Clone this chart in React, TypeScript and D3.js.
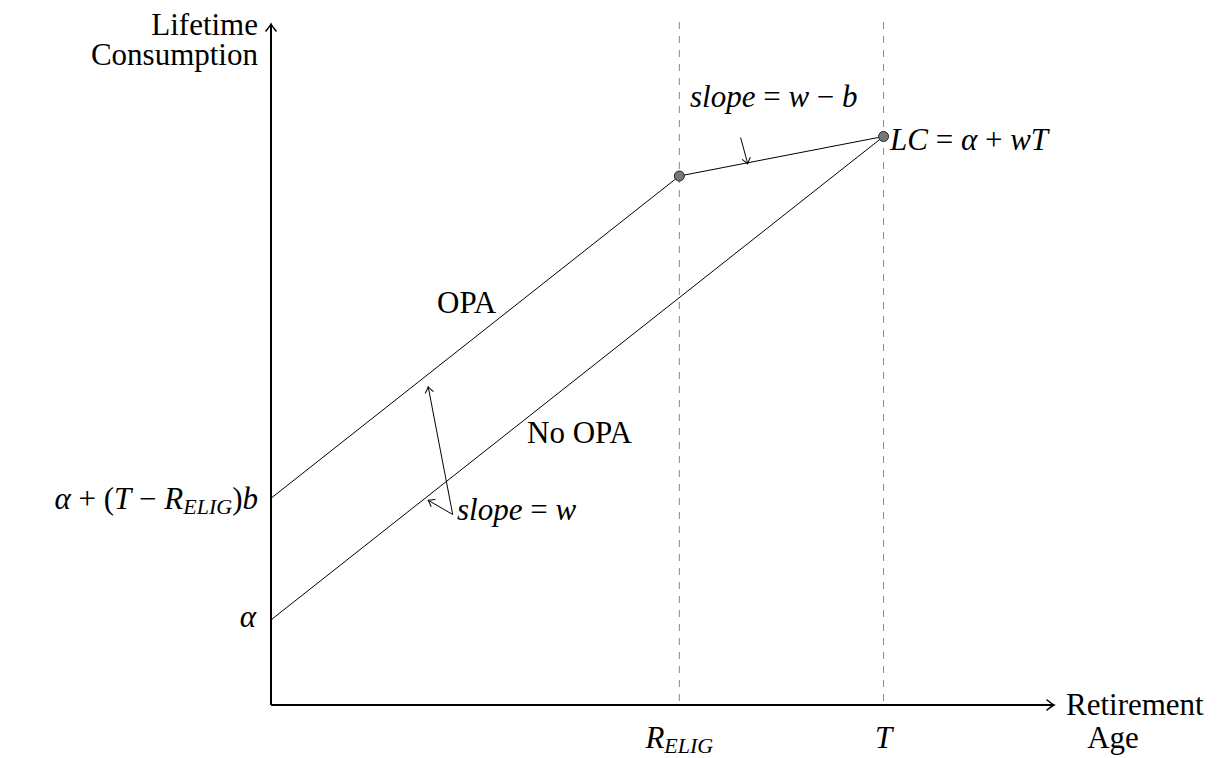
import React from "react";
import * as d3 from "d3";

// ---- data (model units) ----
const xMarks = [
  { key: "R", base: "R", sub: "ELIG", value: 4 },
  { key: "T", base: "T", sub: "", value: 6 },
];
const noOpaLine = [
  { x: 0, y: 0.84 },
  { x: 6, y: 5.61 },
];
const opaLine = [
  { x: 0, y: 2.04 },
  { x: 4, y: 5.22 },
  { x: 6, y: 5.61 },
];
const dotPoints = [
  { x: 4, y: 5.22 },
  { x: 6, y: 5.61 },
];
const yLabelValues = { alpha: 0.84, opaIntercept: 2.04 };

const W = 1229;
const H = 758;
const FONT = "'Liberation Serif', 'Times New Roman', serif";
const FS = 31;
const SUB = 22;
const tStyle = { fontFamily: FONT };

export default function App() {
  const x = d3.scaleLinear().domain([0, 7.67]).range([271, 1054]);
  const y = d3.scaleLinear().domain([0, 6.72]).range([705, 24]);
  const line = d3
    .line<{ x: number; y: number }>()
    .x((d) => x(d.x))
    .y((d) => y(d.y));

  const x0 = x(0);
  const y0 = y(0);

  const slopeWStart = { x: 1.78, y: 1.88 };
  const slopeWTips = [
    { x: 1.54, y: 3.14 },
    { x: 1.54, y: 2.02 },
  ];
  const segArrow = { from: { x: 4.6, y: 5.6 }, to: { x: 4.67, y: 5.34 } };

  return (
    <svg
      width={W}
      height={H}
      style={{ position: "absolute", left: 0, top: 0, background: "#fff" }}
    >
      <defs>
        <marker
          id="axArrow"
          viewBox="-10 -6 12 12"
          markerWidth={12}
          markerHeight={12}
          refX={0}
          refY={0}
          orient="auto"
          markerUnits="userSpaceOnUse"
        >
          <path
            d="M -7,-5 Q -2,-1 0,0 Q -2,1 -7,5"
            fill="none"
            stroke="#000"
            strokeWidth={1.6}
            strokeLinecap="round"
          />
        </marker>
        <marker
          id="thinArrow"
          viewBox="-8 -5 10 10"
          markerWidth={10}
          markerHeight={10}
          refX={0}
          refY={0}
          orient="auto"
          markerUnits="userSpaceOnUse"
        >
          <path
            d="M -5.5,-4 Q -1.5,-0.8 0,0 Q -1.5,0.8 -5.5,4"
            fill="none"
            stroke="#000"
            strokeWidth={1}
            strokeLinecap="round"
          />
        </marker>
      </defs>

      {xMarks.map((m) => (
        <line
          key={m.key}
          x1={x(m.value)}
          x2={x(m.value)}
          y1={22}
          y2={y0}
          stroke="#8a8a8a"
          strokeWidth={1}
          strokeDasharray="7 7"
        />
      ))}

      <line x1={x0} y1={y0} x2={x(7.67)} y2={y0} stroke="#000" strokeWidth={2} markerEnd="url(#axArrow)" />
      <line x1={x0} y1={y0} x2={x0} y2={y(6.72)} stroke="#000" strokeWidth={2} markerEnd="url(#axArrow)" />

      <path d={line(noOpaLine) || ""} fill="none" stroke="#000" strokeWidth={1} />
      <path d={line(opaLine) || ""} fill="none" stroke="#000" strokeWidth={1} />

      {dotPoints.map((p, i) => (
        <circle key={i} cx={x(p.x)} cy={y(p.y)} r={5} fill="#777" stroke="#222" strokeWidth={1} />
      ))}

      {slopeWTips.map((t, i) => (
        <line
          key={i}
          x1={x(slopeWStart.x)}
          y1={y(slopeWStart.y)}
          x2={x(t.x)}
          y2={y(t.y)}
          stroke="#000"
          strokeWidth={1}
          markerEnd="url(#thinArrow)"
        />
      ))}
      <line
        x1={x(segArrow.from.x)}
        y1={y(segArrow.from.y)}
        x2={x(segArrow.to.x)}
        y2={y(segArrow.to.y)}
        stroke="#000"
        strokeWidth={1}
        markerEnd="url(#thinArrow)"
      />

      <g fontSize={FS} fill="#000">
        <text style={tStyle} x={258} y={35} textAnchor="end">Lifetime</text>
        <text style={tStyle} x={258} y={65} textAnchor="end">Consumption</text>

        <text style={tStyle} x={1066} y={715}>Retirement</text>
        <text style={tStyle} x={1113} y={748} textAnchor="middle">Age</text>

        <text style={tStyle} x={258} y={y(yLabelValues.opaIntercept) + 11} textAnchor="end">
          <tspan fontStyle="italic">α</tspan>
          <tspan> + (</tspan>
          <tspan fontStyle="italic">T</tspan>
          <tspan> − </tspan>
          <tspan fontStyle="italic">R</tspan>
          <tspan fontStyle="italic" fontSize={SUB} dy={5}>ELIG</tspan>
          <tspan dy={-5}>)</tspan>
          <tspan fontStyle="italic">b</tspan>
        </text>
        <text style={tStyle} x={256} y={y(yLabelValues.alpha) + 7} textAnchor="end" fontStyle="italic">α</text>

        {xMarks.map((m) => (
          <text style={tStyle} key={m.key} x={x(m.value)} y={748} textAnchor="middle" fontStyle="italic">
            <tspan>{m.base}</tspan>
            {m.sub ? (
              <tspan fontSize={SUB} dy={5}>{m.sub}</tspan>
            ) : null}
          </text>
        ))}

        <text style={tStyle} x={437} y={313}>OPA</text>
        <text style={tStyle} x={527} y={443}>No OPA</text>

        <text style={tStyle} x={457} y={520}>
          <tspan fontStyle="italic">slope</tspan>
          <tspan> = </tspan>
          <tspan fontStyle="italic">w</tspan>
        </text>
        <text style={tStyle} x={690} y={107}>
          <tspan fontStyle="italic">slope</tspan>
          <tspan> = </tspan>
          <tspan fontStyle="italic">w</tspan>
          <tspan> − </tspan>
          <tspan fontStyle="italic">b</tspan>
        </text>
        <text style={tStyle} x={890} y={150}>
          <tspan fontStyle="italic">LC</tspan>
          <tspan> = </tspan>
          <tspan fontStyle="italic">α</tspan>
          <tspan> + </tspan>
          <tspan fontStyle="italic">wT</tspan>
        </text>
      </g>
    </svg>
  );
}
